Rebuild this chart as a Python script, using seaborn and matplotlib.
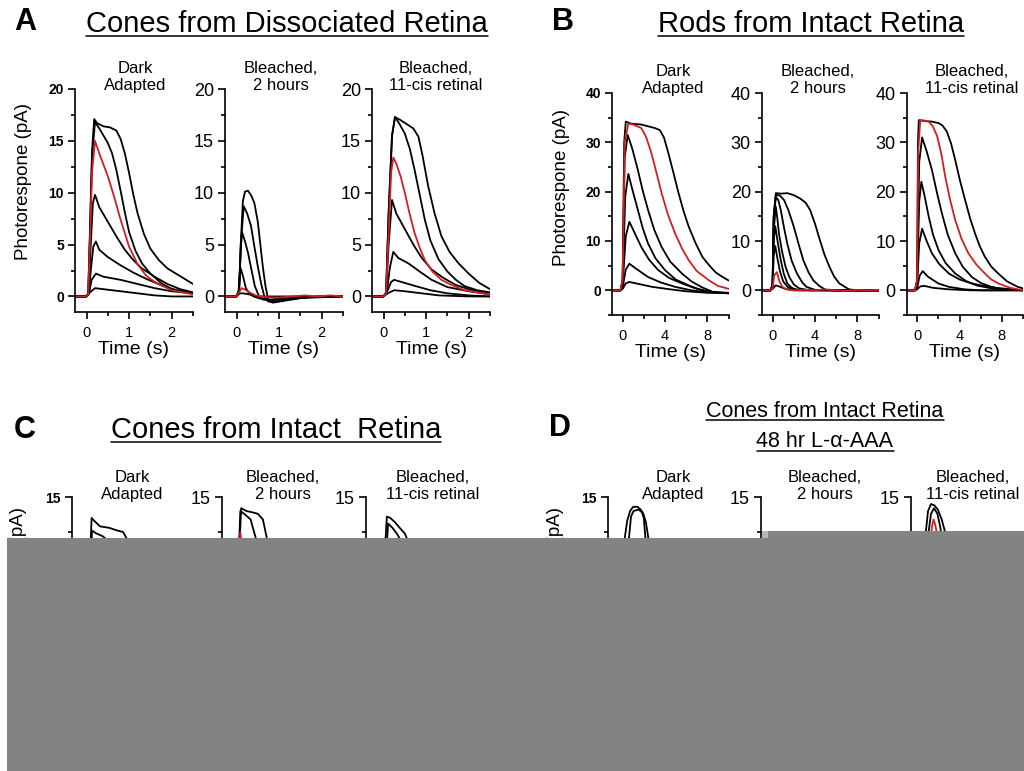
import matplotlib
matplotlib.use("Agg")
import matplotlib.pyplot as plt
import pandas as pd
import seaborn as sns
from matplotlib.patches import Rectangle
from matplotlib.lines import Line2D
from matplotlib.ticker import MultipleLocator

# ------------------------------------------------------------------
# Photoresponse traces: each trace is (time in s, current in pA)
# ------------------------------------------------------------------

# A - cones from dissociated retina
A_dark_black = [
    ([-0.27, 0, 0.04, 0.08, 0.13, 0.18, 0.25, 0.4, 0.55, 0.7, 0.8, 0.9, 1.0, 1.1, 1.2, 1.35, 1.5, 1.7, 1.9, 2.1, 2.3, 2.5],
     [0, 0, 0.3, 6, 14, 17.1, 16.7, 16.4, 16.3, 16.0, 15.2, 13.8, 11.9, 9.8, 8.0, 6.0, 4.6, 3.5, 2.7, 2.2, 1.7, 1.2]),
    ([-0.27, 0, 0.04, 0.08, 0.13, 0.2, 0.3, 0.4, 0.5, 0.6, 0.7, 0.8, 0.9, 1.0, 1.15, 1.3, 1.5, 1.75, 2.0, 2.25, 2.5],
     [0, 0, 0.3, 6, 13.5, 16.8, 16.2, 15.5, 14.8, 13.8, 12.2, 10.2, 8.1, 6.2, 4.4, 3.2, 2.2, 1.3, 0.7, 0.5, 0.3]),
    ([-0.27, 0, 0.05, 0.1, 0.15, 0.2, 0.3, 0.5, 0.7, 0.9, 1.1, 1.3, 1.6, 1.9, 2.2, 2.5],
     [0, 0, 0.3, 5, 9, 9.8, 8.6, 7.2, 5.8, 4.5, 3.5, 2.7, 1.9, 1.2, 0.7, 0.4]),
    ([-0.27, 0, 0.05, 0.1, 0.16, 0.22, 0.3, 0.5, 0.8, 1.1, 1.4, 1.8, 2.2, 2.5],
     [0, 0, 0.2, 2.5, 4.8, 5.3, 4.5, 3.8, 3.0, 2.3, 1.7, 1.0, 0.5, 0.3]),
    ([-0.27, 0, 0.06, 0.12, 0.22, 0.4, 0.8, 1.2, 1.6, 2.0, 2.5],
     [0, 0, 0.3, 1.6, 2.2, 1.9, 1.6, 1.2, 0.8, 0.5, 0.3]),
    ([-0.27, 0, 0.08, 0.2, 0.4, 0.8, 1.2, 1.6, 2.0, 2.5],
     [0, 0, 0.4, 0.8, 0.7, 0.5, 0.3, 0.1, 0.0, 0.0]),
]
A_dark_red = ([-0.27, 0, 0.04, 0.08, 0.13, 0.2, 0.3, 0.4, 0.5, 0.65, 0.8, 1.0, 1.2, 1.4, 1.6, 1.8, 2.0, 2.25, 2.5],
              [0, 0, 0.2, 5, 12, 15.0, 13.8, 12.7, 11.6, 9.6, 7.4, 4.8, 3.1, 2.0, 1.4, 1.0, 0.6, 0.4, 0.2])

A_bleach_black = [
    ([-0.27, 0, 0.06, 0.1, 0.15, 0.2, 0.27, 0.35, 0.42, 0.5, 0.56, 0.62, 0.68, 0.75, 0.85, 1.0, 1.3, 1.6, 2.0, 2.5],
     [0, 0, 0.5, 5, 9.2, 10.1, 10.2, 9.7, 9.0, 7.2, 5.0, 2.8, 1.0, -0.4, -0.6, -0.5, -0.3, -0.1, 0, 0]),
    ([-0.27, 0, 0.06, 0.1, 0.17, 0.25, 0.34, 0.42, 0.5, 0.58, 0.66, 0.75, 0.9, 1.2, 1.6, 2.0, 2.5],
     [0, 0, 0.5, 5, 8.7, 8.0, 6.8, 4.8, 2.9, 1.2, -0.1, -0.5, -0.5, -0.3, -0.1, 0, 0]),
    ([-0.27, 0, 0.06, 0.1, 0.13, 0.2, 0.27, 0.35, 0.43, 0.52, 0.62, 0.8, 1.2, 2.5],
     [0, 0, 0.5, 4.5, 6.2, 5.3, 4.2, 2.6, 1.0, 0.1, -0.3, -0.4, -0.2, 0]),
    ([-0.27, 0, 0.05, 0.09, 0.15, 0.22, 0.3, 0.4, 0.55, 0.8, 1.2, 2.5],
     [0, 0, 0.6, 2.8, 2.0, 0.8, 0.3, 0.0, -0.2, -0.3, -0.1, 0]),
    ([-0.27, 0, 0.08, 0.15, 0.3, 0.5, 1.0, 2.5],
     [0, 0, 0.3, 0.3, 0.2, 0, 0, 0]),
]
A_bleach_red = ([-0.27, 0, 0.06, 0.12, 0.18, 0.3, 0.45, 0.6, 0.8, 1.0, 1.3, 1.6, 1.9, 2.2, 2.5],
                [0, 0, 0.4, 0.8, 0.7, 0.4, 0.1, 0, -0.1, -0.1, 0, 0.1, 0, 0.1, 0])

A_cis_black = [
    ([-0.27, 0, 0.06, 0.12, 0.2, 0.27, 0.4, 0.55, 0.7, 0.82, 0.92, 1.05, 1.2, 1.36, 1.55, 1.76, 2.0, 2.25, 2.5],
     [0, 0, 0.3, 8, 15.5, 17.3, 17.0, 16.6, 16.2, 15.4, 13.5, 10.6, 8.0, 5.8, 4.3, 3.2, 2.2, 1.3, 0.7]),
    ([-0.27, 0, 0.06, 0.12, 0.2, 0.27, 0.38, 0.5, 0.62, 0.73, 0.85, 0.97, 1.1, 1.29, 1.5, 1.7, 1.9, 2.2, 2.5],
     [0, 0, 0.3, 8, 15.5, 17.3, 16.6, 15.7, 14.2, 12.2, 9.8, 7.4, 5.4, 3.6, 2.4, 1.6, 1.0, 0.6, 0.4]),
    ([-0.27, 0, 0.06, 0.12, 0.2, 0.3, 0.42, 0.58, 0.73, 0.9, 1.13, 1.4, 1.7, 2.0, 2.5],
     [0, 0, 0.3, 5, 9.3, 8.0, 7.1, 5.9, 4.8, 3.7, 2.6, 1.8, 1.1, 0.7, 0.3]),
    ([-0.27, 0, 0.08, 0.15, 0.23, 0.35, 0.58, 0.85, 1.13, 1.5, 2.0, 2.5],
     [0, 0, 0.4, 2.8, 4.3, 3.7, 3.2, 2.4, 1.6, 0.9, 0.5, 0.2]),
    ([-0.27, 0, 0.1, 0.18, 0.25, 0.5, 0.75, 1.1, 1.5, 2.0, 2.5],
     [0, 0, 0.6, 1.4, 1.6, 1.3, 1.0, 0.6, 0.3, 0.1, 0]),
    ([-0.27, 0, 0.1, 0.25, 0.5, 0.9, 1.3, 2.0, 2.5],
     [0, 0, 0.3, 0.6, 0.5, 0.3, 0.1, 0, 0]),
]
A_cis_red = ([-0.27, 0, 0.06, 0.12, 0.18, 0.23, 0.3, 0.4, 0.5, 0.6, 0.73, 0.85, 0.97, 1.15, 1.36, 1.6, 1.9, 2.2, 2.5],
             [0, 0, 0.3, 6, 12, 13.4, 12.8, 11.6, 10.0, 8.2, 6.1, 4.7, 3.5, 2.4, 1.6, 1.1, 0.6, 0.4, 0.2])

# B - rods from intact retina
B_dark_black = [
    ([-1, -0.2, 0, 0.15, 0.3, 0.8, 1.76, 2.5, 3.04, 3.5, 3.9, 4.32, 4.8, 5.28, 5.76, 6.24, 6.9, 7.52, 8.2, 8.8, 9.44, 10],
     [0, 0, 2, 30, 34.2, 33.8, 33.6, 33.2, 32.9, 32.5, 31, 27.8, 23.8, 19.7, 16.0, 12.9, 9.5, 6.8, 5.0, 3.6, 2.7, 2.0]),
    ([-1, -0.2, 0, 0.2, 0.48, 0.9, 1.44, 1.9, 2.4, 3.0, 3.68, 4.5, 5.6, 6.5, 7.5, 8.5, 10],
     [0, 0, 2, 27, 31.5, 28.8, 24.4, 20.2, 16.3, 12.2, 8.8, 5.8, 3.4, 1.8, 0.6, -0.3, -0.6]),
    ([-1, -0.2, 0, 0.25, 0.54, 0.9, 1.44, 1.9, 2.4, 3.1, 4.0, 5.0, 6.56, 8, 10],
     [0, 0, 1.5, 19, 23.6, 20.6, 16.3, 12.6, 9.5, 6.5, 4.1, 2.2, 0.7, -0.3, -0.6]),
    ([-1, -0.2, 0, 0.3, 0.64, 1.1, 1.76, 2.5, 3.36, 4.4, 5.6, 7, 8.5, 10],
     [0, 0, 1, 11, 13.9, 11.8, 8.8, 6.2, 4.1, 2.5, 1.4, 0.3, -0.4, -0.6]),
    ([-1, -0.2, 0, 0.3, 0.64, 1.2, 2.4, 3.6, 4.96, 6.5, 8, 10],
     [0, 0, 0.5, 4.2, 5.4, 4.5, 2.7, 1.6, 0.7, 0, -0.4, -0.5]),
    ([-1, -0.2, 0, 0.3, 0.64, 1.5, 2.8, 4.5, 6, 8, 10],
     [0, 0, 0.3, 1.4, 1.7, 1.3, 0.7, 0.2, -0.2, -0.5, -0.5]),
]
B_dark_red = ([-1, -0.2, 0, 0.2, 0.54, 1.0, 1.76, 2.2, 2.72, 3.2, 3.68, 4.3, 4.96, 5.6, 6.24, 7.0, 8.16, 9.0, 10],
              [0, 0, 2, 30, 33.8, 33.6, 32.9, 31.2, 27.8, 23.8, 19.7, 15.2, 11.5, 8.5, 6.1, 3.9, 2.0, 0.9, 0.3])

B_bleach_black = [
    ([-1, -0.2, 0, 0.1, 0.31, 0.8, 1.38, 2.0, 2.6, 3.1, 3.54, 4.0, 4.46, 4.9, 5.38, 5.8, 6.3, 7.2, 8, 9, 10],
     [0, 0, 1, 15, 19.7, 19.6, 19.7, 19.3, 18.6, 17.8, 16.3, 13.5, 10.2, 7.2, 4.7, 2.8, 1.4, 0.2, 0, 0, 0]),
    ([-1, -0.2, 0, 0.1, 0.31, 0.7, 1.08, 1.5, 2.0, 2.45, 2.9, 3.4, 3.85, 4.4, 5, 6, 10],
     [0, 0, 1, 15, 19.4, 19.2, 18.3, 16.2, 12.9, 9.4, 6.1, 3.6, 2.0, 0.9, 0.1, -0.1, 0]),
    ([-1, -0.2, 0, 0.1, 0.3, 0.55, 0.77, 1.05, 1.38, 1.8, 2.3, 2.8, 3.2, 4, 10],
     [0, 0, 1, 14, 19.0, 18.2, 16.3, 13.0, 9.5, 6.0, 3.4, 1.6, 0.7, 0.1, 0]),
    ([-1, -0.2, 0, 0.1, 0.3, 0.45, 0.6, 0.9, 1.23, 1.6, 2.0, 2.5, 3.5, 10],
     [0, 0, 1, 12, 17, 14.5, 11.5, 7.8, 4.7, 2.6, 1.2, 0.4, 0, 0]),
    ([-1, -0.2, 0, 0.1, 0.25, 0.45, 0.77, 1.05, 1.38, 1.8, 2.5, 10],
     [0, 0, 1, 10, 13, 10.2, 6.1, 3.4, 1.4, 0.5, 0, 0]),
    ([-1, -0.2, 0, 0.1, 0.25, 0.45, 0.7, 1.0, 1.4, 2.0, 10],
     [0, 0, 0.8, 7, 9, 6.5, 3.8, 1.8, 0.7, 0.1, 0]),
    ([-1, -0.2, 0, 0.3, 0.6, 1.2, 2.0, 10],
     [0, 0, 0.3, 1.0, 0.8, 0.3, 0, 0]),
]
B_bleach_red = ([-1, -0.2, 0, 0.15, 0.4, 0.65, 0.92, 1.3, 2, 3, 4, 5, 6, 7, 8, 9, 10],
                [0, 0, 0.5, 3.0, 3.7, 1.8, 0.7, 0.2, 0, 0.1, 0, 0.2, 0, -0.1, 0.1, 0, 0.1])

B_cis_black = [
    ([-1, -0.2, 0, 0.08, 0.16, 0.8, 1.4, 2.03, 2.4, 2.8, 3.2, 3.6, 4.05, 4.53, 5.0, 5.47, 5.9, 6.4, 7.0, 7.66, 8.5, 9.5, 10],
     [0, 0, 2, 30, 34.5, 34.3, 34.2, 33.9, 33.4, 32.2, 29.8, 26.4, 22.2, 18.3, 14.6, 11.5, 9.0, 6.8, 4.8, 3.4, 1.8, 0.7, 0.4]),
    ([-1, -0.2, 0, 0.2, 0.47, 0.9, 1.4, 1.85, 2.34, 2.9, 3.6, 4.3, 5.16, 6, 7, 8, 10],
     [0, 0, 2, 26, 31, 28.2, 24.4, 20.0, 15.6, 11.2, 7.5, 4.8, 2.7, 1.5, 0.7, 0.2, 0]),
    ([-1, -0.2, 0, 0.2, 0.4, 0.7, 1.1, 1.5, 2.03, 2.7, 3.6, 4.6, 5.6, 7, 10],
     [0, 0, 1.5, 18, 22, 19.2, 14.9, 11.3, 8.1, 5.5, 3.4, 1.9, 1.0, 0.4, 0]),
    ([-1, -0.2, 0, 0.2, 0.47, 0.9, 1.4, 2.1, 3.0, 4.0, 5.0, 6.0, 7.5, 10],
     [0, 0, 1, 9.5, 12.5, 10.0, 7.5, 5.3, 3.4, 2.2, 1.5, 1.0, 0.5, 0]),
    ([-1, -0.2, 0, 0.25, 0.53, 1.0, 2.0, 3.0, 4.5, 6, 10],
     [0, 0, 0.5, 3.0, 3.9, 2.8, 1.4, 0.7, 0.2, 0, 0]),
    ([-1, -0.2, 0, 0.3, 0.7, 1.5, 3, 5, 10],
     [0, 0, 0.2, 0.8, 0.9, 0.5, 0.2, 0, 0]),
]
B_cis_red = ([-1, -0.2, 0, 0.1, 0.3, 0.7, 1.1, 1.5, 1.9, 2.3, 2.65, 3.1, 3.6, 4.2, 4.84, 5.6, 6.4, 7.0, 7.66, 8.8, 10],
             [0, 0, 2, 28, 34.5, 34.4, 34.2, 33.2, 31.2, 27.5, 23.1, 18.5, 14.2, 10.4, 7.5, 5.2, 3.4, 2.2, 1.4, 0.5, 0])

# C - cones from intact retina
C_dark_black = [
    ([-0.27, 0, 0.08, 0.12, 0.19, 0.25, 0.39, 0.6, 0.8, 0.93, 1.02, 1.15, 1.4, 1.8, 2.2, 2.5],
     [0, 0, 0, 8, 13.5, 13.3, 12.9, 12.8, 12.6, 12.5, 12.0, 10, 6, 2.5, 1.0, 0.5]),
    ([-0.27, 0, 0.08, 0.12, 0.2, 0.3, 0.45, 0.6, 0.75, 0.9, 1.2, 1.6, 2.0, 2.5],
     [0, 0, 0, 7, 12.6, 12.4, 12.2, 11.8, 10.5, 8, 4.5, 2, 0.8, 0.3]),
]
C_dark_red = None

C_bleach_black = [
    ([-0.27, 0, 0.06, 0.1, 0.18, 0.3, 0.45, 0.57, 0.69, 0.78, 0.85, 1.0, 1.3, 1.8, 2.5],
     [0, 0, 0, 9, 14.2, 14.0, 13.9, 13.8, 13.4, 12.1, 9, 4, 1, 0, 0]),
    ([-0.27, 0, 0.06, 0.1, 0.16, 0.25, 0.4, 0.52, 0.6, 0.8, 1.2, 2.5],
     [0, 0, 0, 9, 14.0, 13.8, 13.4, 12.1, 10, 4, 0.5, 0]),
]
C_bleach_red = ([-0.27, 0, 0.06, 0.1, 0.16, 0.25, 0.4, 0.6, 1.0, 2.5],
                [0, 0, 0, 8, 12.5, 10, 6, 3, 1, 0])

C_cis_black = [
    ([-0.27, 0, 0.08, 0.13, 0.22, 0.3, 0.41, 0.52, 0.64, 0.71, 0.85, 1.1, 1.5, 2.0, 2.5],
     [0, 0, 0, 9, 13.6, 13.5, 13.2, 12.8, 12.4, 11.9, 9, 5.5, 2.5, 1, 0.4]),
    ([-0.27, 0, 0.09, 0.14, 0.25, 0.35, 0.45, 0.53, 0.7, 1.0, 1.5, 2.5],
     [0, 0, 0, 8, 13.1, 12.8, 12.4, 12.0, 9, 5, 2, 0.5]),
]
C_cis_red = None

# D - cones from intact retina, 48 hr L-alpha-AAA
D_dark_black = [
    ([-0.27, 0, 0.08, 0.12, 0.18, 0.25, 0.32, 0.42, 0.5, 0.56, 0.62, 0.68, 0.8, 1.0, 1.4, 2.0, 2.5],
     [0, 0, 0, 12.0, 13.3, 14.0, 14.3, 14.3, 14.1, 13.8, 13.2, 12.0, 7, 2.5, 0.5, 0, 0]),
    ([-0.27, 0, 0.12, 0.22, 0.27, 0.33, 0.45, 0.53, 0.57, 0.61, 0.7, 0.9, 1.3, 2.5],
     [0, 0, 0, 12.0, 13.6, 14.0, 14.1, 13.9, 13.5, 12.0, 7, 2, 0.3, 0]),
]
D_dark_red = None

D_bleach_black = []
D_bleach_red = None

D_cis_black = [
    ([-0.27, 0, 0.04, 0.06, 0.13, 0.2, 0.28, 0.36, 0.45, 0.53, 0.57, 0.7, 0.9, 1.3, 2.0, 2.5],
     [0, 0, 0, 12.0, 14.0, 14.5, 14.4, 14.1, 13.4, 12.5, 12.0, 8, 4, 1, 0.2, 0]),
    ([-0.27, 0, 0.08, 0.12, 0.2, 0.27, 0.35, 0.42, 0.46, 0.6, 0.9, 1.5, 2.5],
     [0, 0, 0, 12.0, 13.8, 14.2, 13.8, 12.8, 12.0, 8, 3, 0.5, 0]),
]
D_cis_red = ([-0.27, 0, 0.1, 0.15, 0.22, 0.26, 0.3, 0.34, 0.4, 0.6, 1.0, 1.5, 2.5],
             [0, 0, 0, 10, 12.9, 13.4, 13.0, 12.4, 11, 7, 2.5, 0.6, 0])

# Text
condition_labels = ["Dark\nAdapted", "Bleached,\n2 hours", "Bleached,\n11-cis retinal"]
y_label = "Photorespone (pA)"
x_label = "Time (s)"

# ------------------------------------------------------------------
# Figure
# ------------------------------------------------------------------
W, H = 1024, 771
RED = "#cf2020"

sns.set_theme(style="ticks")
plt.rcParams["font.family"] = ["Liberation Sans", "DejaVu Sans"]
plt.rcParams.update({
    "text.color": "black",
    "axes.labelcolor": "black",
    "axes.edgecolor": "black",
    "xtick.color": "black",
    "ytick.color": "black",
    "axes.linewidth": 1.2,
    "xtick.major.width": 1.2,
    "ytick.major.width": 1.2,
    "xtick.minor.width": 1.2,
    "ytick.minor.width": 1.2,
})

fig = plt.figure(figsize=(W / 100, H / 100), dpi=100)
fig.patch.set_facecolor("white")


def fx(x):
    return x / W


def fy(y):
    return 1 - y / H


def draw_traces(ax, black, red):
    rows = []
    for i, (t, v) in enumerate(black):
        for ti, vi in zip(t, v):
            rows.append({"trace": i, "t": ti, "v": vi})
    if rows:
        df = pd.DataFrame(rows)
        sns.lineplot(data=df, x="t", y="v", units="trace", estimator=None,
                     sort=False, color="black", lw=1.3, ax=ax, legend=False)
    if red is not None:
        sns.lineplot(x=red[0], y=red[1], estimator=None, sort=False,
                     color=RED, lw=1.3, ax=ax)


groups = [
    dict(panels=[(A_dark_black, A_dark_red), (A_bleach_black, A_bleach_red), (A_cis_black, A_cis_red)],
         lefts=[75, 225, 372], widths=[118, 118, 118], top=89, bottom=312,
         xlim=(-0.27, 2.5), ylim=(-1.5, 20), xmaj=[0, 1, 2], xminor=0.5,
         ymaj=[0, 5, 10, 15, 20], yminor=2.5),
    dict(panels=[(B_dark_black, B_dark_red), (B_bleach_black, B_bleach_red), (B_cis_black, B_cis_red)],
         lefts=[612, 762, 906.5], widths=[116.6, 116.6, 116.6], top=93, bottom=315,
         xlim=(-1, 10), ylim=(-5, 40), xmaj=[0, 4, 8], xminor=2,
         ymaj=[0, 10, 20, 30, 40], yminor=5),
    dict(panels=[(C_dark_black, C_dark_red), (C_bleach_black, C_bleach_red), (C_cis_black, C_cis_red)],
         lefts=[72, 222, 366], widths=[118, 118, 118], top=497, bottom=714,
         xlim=(-0.27, 2.5), ylim=(-0.5, 15), xmaj=[0, 1, 2], xminor=0.5,
         ymaj=[0, 5, 10, 15], yminor=2.5),
    dict(panels=[(D_dark_black, D_dark_red), (D_bleach_black, D_bleach_red), (D_cis_black, D_cis_red)],
         lefts=[608, 761, 911], widths=[118, 118, 118], top=497, bottom=714,
         xlim=(-0.27, 2.5), ylim=(-0.5, 15), xmaj=[0, 1, 2], xminor=0.5,
         ymaj=[0, 5, 10, 15], yminor=2.5),
]

for g in groups:
    for j, ((black, red), left, width) in enumerate(zip(g["panels"], g["lefts"], g["widths"])):
        ax = fig.add_axes([fx(left), fy(g["bottom"]), width / W, (g["bottom"] - g["top"]) / H])
        ax.set_facecolor("none")
        draw_traces(ax, black, red)
        ax.set_xlim(*g["xlim"])
        ax.set_ylim(*g["ylim"])
        sns.despine(ax=ax)
        ax.set_xticks(g["xmaj"], labels=[str(v) for v in g["xmaj"]], fontsize=10.5)
        ax.xaxis.set_minor_locator(MultipleLocator(g["xminor"]))
        if j == 0:
            ax.set_yticks(g["ymaj"], labels=[str(v) for v in g["ymaj"]],
                          fontsize=10, fontweight="bold")
        else:
            ax.set_yticks(g["ymaj"], labels=[str(v) for v in g["ymaj"]], fontsize=13)
        ax.yaxis.set_minor_locator(MultipleLocator(g["yminor"]))
        ax.tick_params(axis="both", which="major", direction="out", length=5, color="black")
        ax.tick_params(axis="both", which="minor", direction="out", length=2.8, color="black")
        ax.tick_params(axis="x", which="major", pad=5)
        ax.tick_params(axis="y", which="major", pad=3)
        ax.set_xlabel(x_label, fontsize=14, labelpad=1)
        ax.set_ylabel("")

# Panel letters
for letter, (x, y) in zip("ABCD", [(25, 22), (563, 22), (25, 430), (560, 428)]):
    fig.text(fx(x), fy(y), letter, fontsize=22, fontweight="bold", ha="center", va="center")

# Underlined panel titles (text, centre x, baseline y, size)
titles = [
    ("Cones from Dissociated Retina", 287, 32, 21),
    ("Rods from Intact Retina", 811, 32, 21),
    ("Cones from Intact  Retina", 276, 438, 21),
    ("Cones from Intact Retina", 825, 417, 15.5),
    ("48 hr L-\u03b1-AAA", 825, 447, 15.5),
]
title_texts = []
for txt, x, yb, size in titles:
    t = fig.text(fx(x), fy(yb), txt, fontsize=size, ha="center", va="baseline")
    title_texts.append((t, yb))

# Condition headers above each sub-panel
header_pos = [
    ([135, 281, 436], 77),
    ([673, 818, 972], 80),
    ([132, 283, 433], 486),
    ([673, 825, 973], 486),
]
for xs, y in header_pos:
    for x, lab in zip(xs, condition_labels):
        fig.text(fx(x), fy(y), lab, fontsize=12, ha="center", va="center", linespacing=1.2)

# Y-axis titles
for x, y in [(24, 182), (561, 188), (19, 586), (556, 586)]:
    fig.text(fx(x), fy(y), y_label, fontsize=13.5, rotation=90, ha="center", va="center")

# Underlines under the titles
fig.canvas.draw()
renderer = fig.canvas.get_renderer()
for t, yb in title_texts:
    bb = t.get_window_extent(renderer)
    fig.add_artist(Line2D([bb.x0 / W, bb.x1 / W], [fy(yb + 3.5), fy(yb + 3.5)],
                          transform=fig.transFigure, color="black", lw=1.1))

# Grey cover over the lower part of the figure
GREY = "#838383"
fig.add_artist(Rectangle((fx(7), 0), 1 - fx(7), fy(538), transform=fig.transFigure,
                         facecolor=GREY, edgecolor="none", zorder=20))
fig.add_artist(Rectangle((fx(768), fy(538)), 1 - fx(768), (538 - 531) / H,
                         transform=fig.transFigure, facecolor=GREY, edgecolor="none", zorder=20))
fig.add_artist(Rectangle((fx(762), fy(538)), 6 / W, (538 - 531) / H,
                         transform=fig.transFigure, facecolor="#b4b4b4", edgecolor="none", zorder=20))

fig.savefig("out.png", dpi=100)
